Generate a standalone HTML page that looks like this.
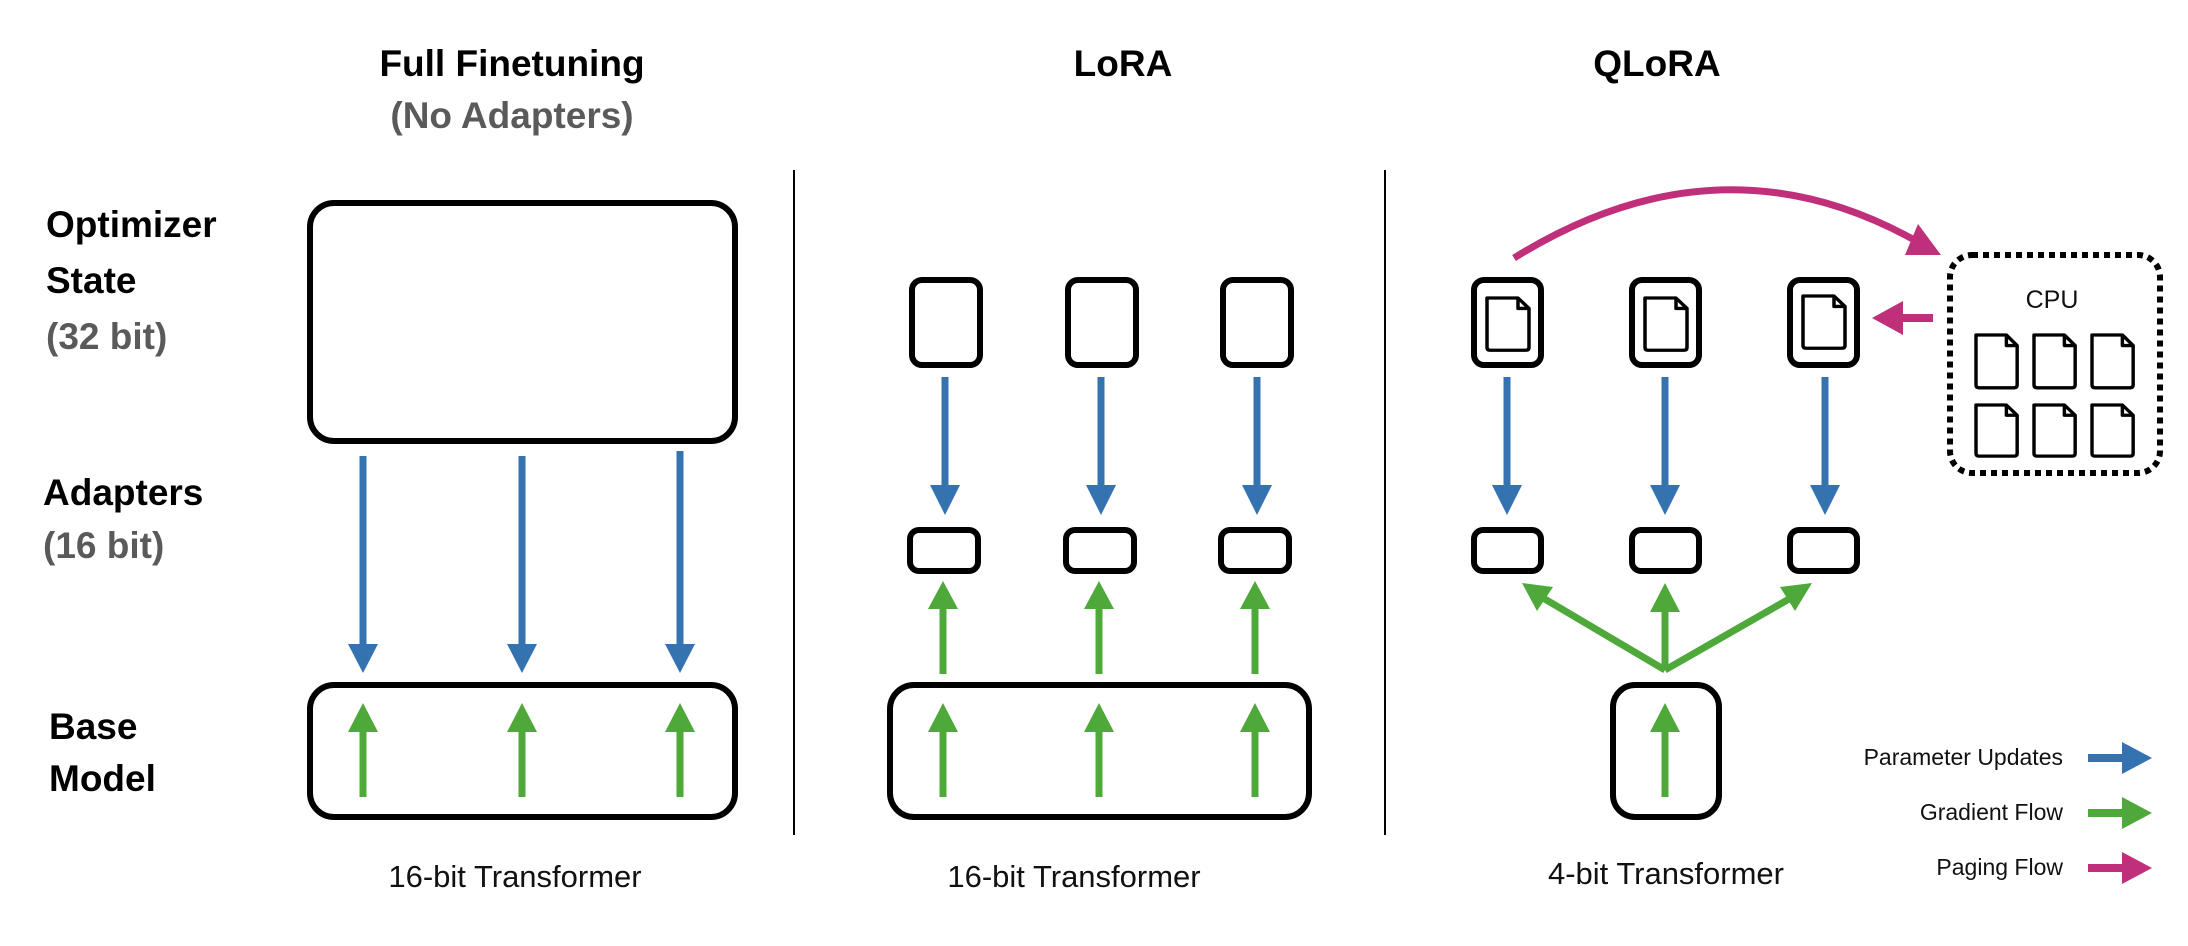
<!DOCTYPE html>
<html><head><meta charset="utf-8"><style>
html,body{margin:0;padding:0;background:#fff;}
svg{display:block;}
text{font-family:"Liberation Sans",sans-serif;}
.t{font-weight:bold;font-size:37px;fill:#000;}
.g{font-weight:bold;font-size:37px;fill:#5a5a5a;}
.n{font-size:31px;fill:#111;}
.l{font-size:23px;fill:#111;}
</style></head><body>
<svg width="2188" height="946" viewBox="0 0 2188 946" xmlns="http://www.w3.org/2000/svg">
<defs>
<g id="doc"><path d="M0,0 H31 L42,11 V52 Q42,55 39,55 H3 Q0,55 0,52 Z M31,0 V11 H42" fill="none" stroke="#000" stroke-width="3.5" stroke-linejoin="round"/></g>
<g id="bdown"><line x1="0" y1="0" x2="0" y2="0" /></g>
</defs>
<!-- titles -->
<text class="t" x="512" y="76" text-anchor="middle">Full Finetuning</text>
<text class="g" x="512" y="128" text-anchor="middle">(No Adapters)</text>
<text class="t" x="1123" y="76" text-anchor="middle">LoRA</text>
<text class="t" x="1657" y="76" text-anchor="middle">QLoRA</text>
<!-- row labels -->
<text class="t" x="46" y="237">Optimizer</text>
<text class="t" x="46" y="293">State</text>
<text class="g" x="46" y="349">(32 bit)</text>
<text class="t" x="43" y="505">Adapters</text>
<text class="g" x="43" y="558">(16 bit)</text>
<text class="t" x="49" y="739">Base</text>
<text class="t" x="49" y="791">Model</text>
<!-- dividers -->
<line x1="794" y1="170" x2="794" y2="835" stroke="#000" stroke-width="2"/>
<line x1="1385" y1="170" x2="1385" y2="835" stroke="#000" stroke-width="2"/>
<!-- full finetuning -->
<rect x="310" y="203" width="425" height="238" rx="24" fill="none" stroke="#000" stroke-width="6"/>
<rect x="310" y="685" width="425" height="132" rx="24" fill="none" stroke="#000" stroke-width="6"/>
<g fill="#3572b0" stroke="#3572b0" stroke-width="7">
<line x1="363" y1="456" x2="363" y2="648"/><polygon stroke="none" points="348,644 378,644 363,673"/>
<line x1="522" y1="456" x2="522" y2="648"/><polygon stroke="none" points="507,644 537,644 522,673"/>
<line x1="680" y1="451" x2="680" y2="648"/><polygon stroke="none" points="665,644 695,644 680,673"/>
</g>
<g fill="#4fa83a" stroke="#4fa83a" stroke-width="7">
<line x1="363" y1="797" x2="363" y2="728"/><polygon stroke="none" points="348,732 378,732 363,703"/>
<line x1="522" y1="797" x2="522" y2="728"/><polygon stroke="none" points="507,732 537,732 522,703"/>
<line x1="680" y1="797" x2="680" y2="728"/><polygon stroke="none" points="665,732 695,732 680,703"/>
</g>
<text class="n" x="515" y="887" text-anchor="middle">16-bit Transformer</text>
<!-- LoRA -->
<g fill="none" stroke="#000" stroke-width="6">
<rect x="912" y="280" width="68" height="85" rx="10"/>
<rect x="1068" y="280" width="68" height="85" rx="10"/>
<rect x="1223" y="280" width="68" height="85" rx="10"/>
<rect x="910" y="530" width="68" height="41" rx="9"/>
<rect x="1066" y="530" width="68" height="41" rx="9"/>
<rect x="1221" y="530" width="68" height="41" rx="9"/>
<rect x="890" y="685" width="419" height="132" rx="24"/>
</g>
<g fill="#3572b0" stroke="#3572b0" stroke-width="7">
<line x1="945" y1="377" x2="945" y2="490"/><polygon stroke="none" points="930,485 960,485 945,515"/>
<line x1="1101" y1="377" x2="1101" y2="490"/><polygon stroke="none" points="1086,485 1116,485 1101,515"/>
<line x1="1257" y1="377" x2="1257" y2="490"/><polygon stroke="none" points="1242,485 1272,485 1257,515"/>
</g>
<g fill="#4fa83a" stroke="#4fa83a" stroke-width="7">
<line x1="943" y1="674" x2="943" y2="605"/><polygon stroke="none" points="928,609 958,609 943,581"/>
<line x1="1099" y1="674" x2="1099" y2="605"/><polygon stroke="none" points="1084,609 1114,609 1099,581"/>
<line x1="1255" y1="674" x2="1255" y2="605"/><polygon stroke="none" points="1240,609 1270,609 1255,581"/>
<line x1="943" y1="797" x2="943" y2="728"/><polygon stroke="none" points="928,732 958,732 943,703"/>
<line x1="1099" y1="797" x2="1099" y2="728"/><polygon stroke="none" points="1084,732 1114,732 1099,703"/>
<line x1="1255" y1="797" x2="1255" y2="728"/><polygon stroke="none" points="1240,732 1270,732 1255,703"/>
</g>
<text class="n" x="1074" y="887" text-anchor="middle">16-bit Transformer</text>
<!-- QLoRA -->
<g fill="none" stroke="#000" stroke-width="6">
<rect x="1474" y="280" width="67" height="85" rx="10"/>
<rect x="1632" y="280" width="67" height="85" rx="10"/>
<rect x="1790" y="280" width="67" height="85" rx="10"/>
<rect x="1474" y="530" width="67" height="41" rx="9"/>
<rect x="1632" y="530" width="67" height="41" rx="9"/>
<rect x="1790" y="530" width="67" height="41" rx="9"/>
<rect x="1613" y="685" width="106" height="132" rx="22"/>
</g>
<use href="#doc" transform="translate(1487,298) scale(1,0.95)"/>
<use href="#doc" transform="translate(1645,298) scale(1,0.95)"/>
<use href="#doc" transform="translate(1803,296) scale(1,0.95)"/>
<g fill="#3572b0" stroke="#3572b0" stroke-width="7">
<line x1="1507" y1="377" x2="1507" y2="490"/><polygon stroke="none" points="1492,485 1522,485 1507,515"/>
<line x1="1665" y1="377" x2="1665" y2="490"/><polygon stroke="none" points="1650,485 1680,485 1665,515"/>
<line x1="1825" y1="377" x2="1825" y2="490"/><polygon stroke="none" points="1810,485 1840,485 1825,515"/>
</g>
<g fill="#4fa83a" stroke="#4fa83a" stroke-width="7">
<line x1="1665" y1="670" x2="1665" y2="605"/><polygon stroke="none" points="1650,612 1680,612 1665,583"/>
<line x1="1665" y1="670" x2="1538" y2="595"/><polygon stroke="none" points="1522,583 1553,587 1537,611"/>
<line x1="1665" y1="670" x2="1796" y2="595"/><polygon stroke="none" points="1812,583 1795,611 1780,587"/>
<line x1="1665" y1="797" x2="1665" y2="728"/><polygon stroke="none" points="1650,732 1680,732 1665,703"/>
</g>
<text class="n" x="1666" y="884" text-anchor="middle">4-bit Transformer</text>
<!-- paging -->
<path d="M1514,258 Q1720,130 1918,242" fill="none" stroke="#c0307a" stroke-width="7"/>
<polygon points="1941,255 1905,255 1918,224" fill="#c0307a"/>
<line x1="1933" y1="318" x2="1900" y2="318" stroke="#c0307a" stroke-width="8"/>
<polygon points="1872,318 1903,301 1903,335" fill="#c0307a"/>
<rect x="1950" y="255" width="210" height="218" rx="22" fill="none" stroke="#000" stroke-width="6" stroke-dasharray="6,5"/>
<text x="2052" y="308" text-anchor="middle" style="font-size:25px;fill:#111;">CPU</text>
<use href="#doc" transform="translate(1976,335) scale(0.98,0.96)"/>
<use href="#doc" transform="translate(2034,335) scale(0.98,0.96)"/>
<use href="#doc" transform="translate(2092,335) scale(0.98,0.96)"/>
<use href="#doc" transform="translate(1976,405) scale(0.98,0.93)"/>
<use href="#doc" transform="translate(2034,405) scale(0.98,0.93)"/>
<use href="#doc" transform="translate(2092,405) scale(0.98,0.93)"/>
<!-- legend -->
<text class="l" x="2063" y="765" text-anchor="end">Parameter Updates</text>
<text class="l" x="2063" y="820" text-anchor="end">Gradient Flow</text>
<text class="l" x="2063" y="875" text-anchor="end">Paging Flow</text>
<g stroke-width="8">
<line x1="2088" y1="758" x2="2126" y2="758" stroke="#3572b0"/><polygon points="2122,742 2152,758 2122,774" fill="#3572b0"/>
<line x1="2088" y1="813" x2="2126" y2="813" stroke="#4fa83a"/><polygon points="2122,797 2152,813 2122,829" fill="#4fa83a"/>
<line x1="2088" y1="868" x2="2126" y2="868" stroke="#c0307a"/><polygon points="2122,852 2152,868 2122,884" fill="#c0307a"/>
</g>
</svg>
</body></html>
